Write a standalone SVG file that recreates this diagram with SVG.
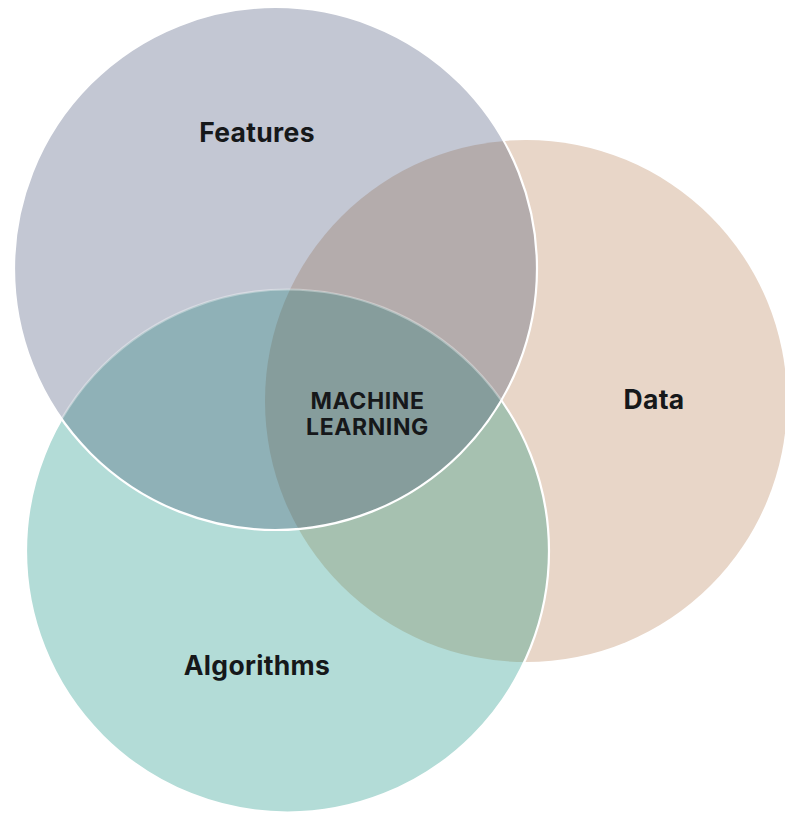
<svg xmlns="http://www.w3.org/2000/svg" width="785" height="813" viewBox="0 0 785 813">
  <style>
    .label { font-family: Inter, "Liberation Sans", sans-serif; font-weight: 700; fill: #16181a; text-anchor: middle; }
    .big { font-size: 26.5px; letter-spacing: 0.3px; }
    .small { font-size: 23px; letter-spacing: 0.6px; }
    .edge { fill: none; stroke: #ffffff; stroke-width: 2.2; }
  </style>
  <defs>
    <circle id="cF" cx="275.5" cy="268.5" r="261.5"/>
    <circle id="cD" cx="526" cy="401" r="261"/>
    <circle id="cA" cx="287.5" cy="551" r="261.5"/>
    <clipPath id="clipF"><use href="#cF"/></clipPath>
    <clipPath id="clipD"><use href="#cD"/></clipPath>
    <clipPath id="clipA"><use href="#cA"/></clipPath>
  </defs>

  <rect width="785" height="813" fill="#ffffff"/>

  <!-- Data set -->
  <g id="node-data">
    <use href="#cD" fill="#e8d6c8"/>
    <text class="label big" x="654" y="409">Data</text>
  </g>

  <!-- Algorithms set, with its overlap on Data -->
  <g id="node-algorithms">
    <use href="#cA" fill="#b3dcd7"/>
    <use href="#cA" fill="#a6c1b0" clip-path="url(#clipD)"/>
    <use href="#cA" class="edge"/>
    <text class="label big" x="257" y="675">Algorithms</text>
  </g>

  <!-- Features set, with its overlaps on Data and Algorithms -->
  <g id="node-features">
    <use href="#cF" fill="#c3c7d3"/>
    <use href="#cD" fill="#b4acac" clip-path="url(#clipF)"/>
    <use href="#cA" fill="#8fb1b7" clip-path="url(#clipF)"/>
    <text class="label big" x="257" y="142">Features</text>
  </g>

  <!-- Centre: all three sets -->
  <g id="node-machine-learning">
    <g clip-path="url(#clipF)">
      <use href="#cA" fill="#869d9c" clip-path="url(#clipD)"/>
    </g>
    <text class="label small" x="367.5" y="409">MACHINE</text>
    <text class="label small" x="367.5" y="435">LEARNING</text>
  </g>

  <!-- Circle outlines -->
  <g id="outlines">
    <use href="#cA" class="edge" stroke-opacity="0.35" clip-path="url(#clipF)"/>
    <use href="#cF" class="edge"/>
  </g>
</svg>
